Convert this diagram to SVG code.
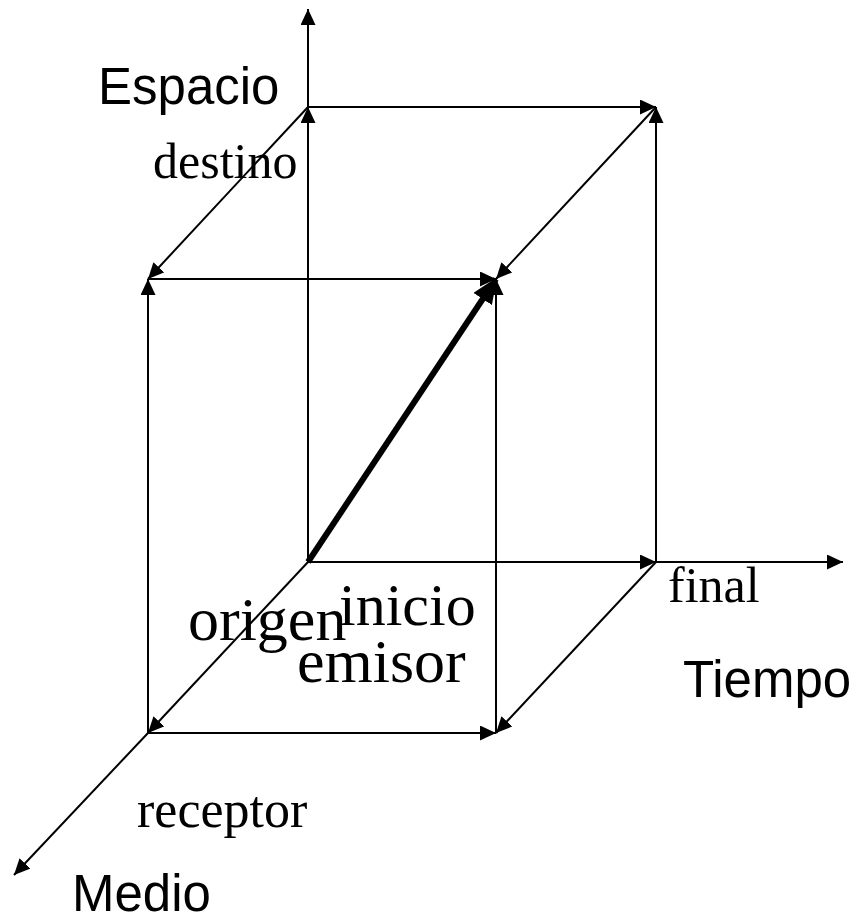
<svg xmlns="http://www.w3.org/2000/svg" width="858" height="915" viewBox="0 0 858 915">
<style>
.ln{stroke:#000;stroke-width:2;fill:none;marker-end:url(#ah)}
.thick{stroke:#000;stroke-width:6;fill:none;marker-end:url(#ahb)}
.sans{font-family:"Liberation Sans",Arial,sans-serif;font-size:51px;fill:#000}
.serif{font-family:"Liberation Serif","Times New Roman",serif;fill:#000}
</style>
<defs>
<marker id="ah" markerUnits="userSpaceOnUse" markerWidth="16" markerHeight="15" refX="16" refY="7.5" orient="auto" viewBox="0 0 16 15">
<path d="M0,0 L16,7.5 L0,15 z" fill="#000"/>
</marker>
<marker id="ahb" markerUnits="userSpaceOnUse" markerWidth="26" markerHeight="22" refX="24" refY="11" orient="auto" viewBox="0 0 26 22">
<path d="M0,0 L26,11 L0,22 z" fill="#000"/>
</marker>
</defs>
<rect width="858" height="915" fill="#fff"/>
<g id="connectors">
<line class="ln" x1="308" y1="562" x2="308" y2="107"/>
<line class="ln" x1="308" y1="107" x2="308" y2="9"/>
<line class="ln" x1="308" y1="562" x2="656" y2="562"/>
<line class="ln" x1="656" y1="562" x2="843" y2="562"/>
<line class="ln" x1="308" y1="562" x2="148" y2="733"/>
<line class="ln" x1="148" y1="733" x2="14" y2="875"/>
<line class="ln" x1="308" y1="107" x2="656" y2="107"/>
<line class="ln" x1="656" y1="562" x2="656" y2="107"/>
<line class="ln" x1="308" y1="107" x2="148" y2="279"/>
<line class="ln" x1="656" y1="107" x2="496" y2="279"/>
<line class="ln" x1="656" y1="562" x2="496" y2="733"/>
<line class="ln" x1="148" y1="733" x2="148" y2="279"/>
<line class="ln" x1="148" y1="279" x2="496" y2="279"/>
<line class="ln" x1="148" y1="733" x2="496" y2="733"/>
<line class="ln" x1="496" y1="733" x2="496" y2="279"/>
<line class="thick" x1="308" y1="562" x2="496" y2="279"/>
</g>
<g id="labels">
<text id="espacio" class="sans" x="98" y="104">Espacio</text>
<text id="destino" class="serif" x="153" y="178" font-size="50">destino</text>
<text id="final" class="serif" x="668" y="602" font-size="50">final</text>
<text id="tiempo" class="sans" x="683" y="697">Tiempo</text>
<text id="origen" class="serif" x="188" y="640" font-size="62">origen</text>
<text id="inicio" class="serif" x="339" y="625" font-size="60">inicio</text>
<text id="emisor" class="serif" x="297" y="682" font-size="62">emisor</text>
<text id="receptor" class="serif" x="137" y="827" font-size="52">receptor</text>
<text id="medio" class="sans" x="72" y="911">Medio</text>
</g>
</svg>
